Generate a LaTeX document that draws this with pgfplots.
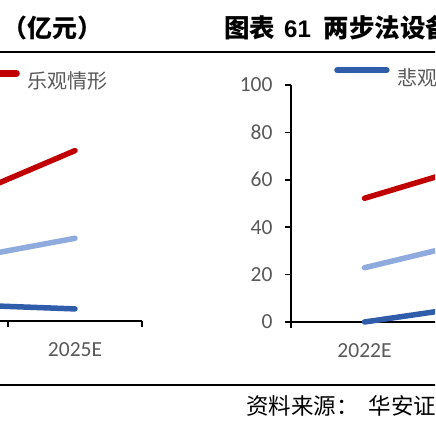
\documentclass[border=0pt]{standalone}
\usepackage{pgfplots}
\pgfplotsset{compat=1.18}
\usepackage{fontspec}
\setmainfont{Carlito}
\newfontfamily\cjk{Noto Sans CJK SC}
\newfontfamily\arialf{Liberation Sans}
\definecolor{cred}{HTML}{C00000}
\definecolor{clight}{HTML}{8FAADC}
\definecolor{cdark}{HTML}{2F5DAA}
\definecolor{cgray}{HTML}{595959}
\pgfplotstableread{
x red light dark
2 47.8 24.4 7.2
3 71.9 34.9 5.1
}\lefttable
\pgfplotstableread{
x red light dark
0 52.2 22.9 0.0
1 70.8 37.8 9.0
}\righttable
\pgfplotsset{
  mystyle/.style={
    scale only axis, height=237pt,
    axis lines=left, axis line style={-, line width=1.5pt, black},
    tick align=outside, major tick length=6pt,
    tick style={line width=1.5pt, black},
    ymin=0, ymax=100, ytick={0,20,...,100},
    xmin=-0.5, xmax=3.5,
    xtick={-0.5,0.5,1.5,2.5,3.5}, xticklabels={},
    extra x ticks={0,1,2,3},
    extra x tick labels={2022E,2023E,2024E,2025E},
    extra x tick style={major tick length=0pt, tick style={draw=none}},
    ticklabel style={font=\fontsize{21.5}{24}\selectfont, text=cgray},
    xticklabel style={yshift=-18pt},
    yticklabel style={xshift=-9pt},
    /pgf/number format/assume math mode=true,
    every axis plot/.append style={line width=5.5pt, line cap=round, mark=none},
    legend style={draw=none, fill=none, inner sep=0pt,
      font=\cjk\fontsize{20}{23}\selectfont, text=cgray,
      nodes={inner sep=0pt},
      legend columns=-1,
      /tikz/every odd column/.append style={column sep=8pt},
      /tikz/every even column/.append style={column sep=20pt}},
    legend image code/.code={\draw[#1, line width=6.5pt, line cap=round] (0pt,7.5pt) -- (49pt,7.5pt);},
    clip=false,
  }
}
\begin{document}
\begin{tikzpicture}[x=1pt,y=1pt]
\useasboundingbox (0,0) rectangle (435,435);
\clip (0,0) rectangle (435,435);
\fill[white] (0,0) rectangle (435,435);
\draw[line width=2pt] (-5,383.3) -- (440,383.3);
\draw[line width=2pt] (-5,49.5) -- (440,49.5);
\node[anchor=west, inner sep=0pt, font=\cjk\bfseries\fontsize{25}{29}\selectfont] at (2,407) {（亿元）};
\node[anchor=west, inner sep=0pt, font=\cjk\bfseries\fontsize{25.5}{29}\selectfont] at (224,407) {图表\hspace{9pt}{\arialf\bfseries\fontsize{24}{28}\selectfont 61}\hspace{13pt}两步法设备市场空间};
\node[anchor=west, inner sep=0pt, font=\cjk\fontsize{22.5}{26}\selectfont] at (246,29) {资料来源：\hspace{10pt}华安证券研究所};

\begin{axis}[mystyle, width=536pt, at={(-394pt,114pt)}, anchor=south west,
  legend style={at={(axis description cs:0.9366,1.0169)}, anchor=east}]
\addplot[cdark] table[x=x,y=dark] {\lefttable};
\addplot[clight] table[x=x,y=light] {\lefttable};
\addplot[cred] table[x=x,y=red] {\lefttable};
\legend{悲观情形,中性情形,乐观情形}
\end{axis}

\begin{axis}[mystyle, width=588pt, at={(291pt,113pt)}, anchor=south west,
  legend style={at={(axis description cs:0.0731,1.0338)}, anchor=west}]
\addplot[cdark] table[x=x,y=dark] {\righttable};
\addplot[clight] table[x=x,y=light] {\righttable};
\addplot[cred] table[x=x,y=red] {\righttable};
\legend{悲观情形,中性情形,乐观情形}
\end{axis}
\end{tikzpicture}
\end{document}
